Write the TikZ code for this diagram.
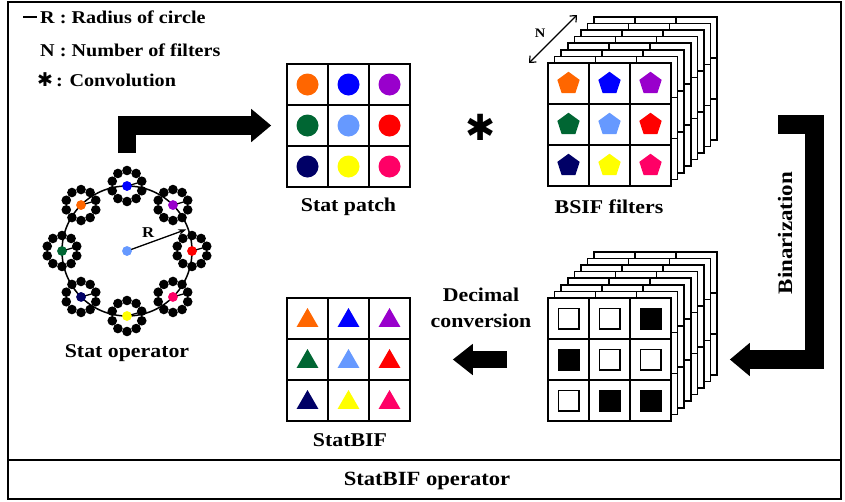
\documentclass[tikz,border=0pt]{standalone}
\usepackage{fontspec}
\setmainfont[FakeStretch=1.12]{Liberation Serif}
\newfontfamily\symfont{DejaVu Sans}
\usetikzlibrary{positioning,arrows.meta,calc,shapes.geometric}
\definecolor{DotOrange}{RGB}{255,102,0}
\definecolor{DotBlue}{RGB}{0,0,255}
\definecolor{DotPurple}{RGB}{153,0,204}
\definecolor{DotGreen}{RGB}{0,102,51}
\definecolor{DotSky}{RGB}{102,153,255}
\definecolor{DotRed}{RGB}{255,0,0}
\definecolor{DotNavy}{RGB}{0,0,102}
\definecolor{DotYellow}{RGB}{255,255,0}
\definecolor{DotPink}{RGB}{255,0,102}
\tikzset{
  frame/.style={line width=1.3pt},
  cell/.style={draw,line width=1.6pt,fill=white,minimum size=41pt,inner sep=0pt},
  layer/.style={draw,line width=1.5pt,fill=white},
  disc/.style={circle,inner sep=0pt,minimum size=22pt},
  pent/.style={regular polygon,regular polygon sides=5,inner sep=0pt,minimum size=23.5pt},
  tri/.style={regular polygon,regular polygon sides=3,inner sep=0pt,minimum size=25pt},
  bitbox/.style={draw,line width=1.5pt,inner sep=0pt,minimum size=20.5pt},
  bit0/.style={fill=white},
  bit1/.style={fill=black},
  statdot/.style={circle,inner sep=0pt,minimum size=9.5pt},
  blockarrow/.style={line width=18.5pt,-{Triangle[length=20pt,width=32pt]}},
  textlbl/.style={font=\bfseries\fontsize{19.5}{26}\selectfont,inner sep=0pt},
  legend/.style={font=\bfseries\fontsize{18}{21}\selectfont,anchor=west,inner sep=0pt},
  narrow/.style={line width=1.2pt,{Straight Barb[length=5pt,width=9pt]}-{Straight Barb[length=5pt,width=9pt]}}
}

\begin{document}
\begin{tikzpicture}[x=1pt,y=-1pt]
  \useasboundingbox (0,0) rectangle (845,501);
  % outer frame and title strip
  \draw[frame] (8,2) rectangle (841,499);
  \draw[frame] (8,460) -- (841,460);
  \node[textlbl,font=\bfseries\fontsize{20.2}{24}\selectfont] (optitle) at (427,481) {StatBIF operator};

  % legend
  \node[legend] (legR) at (40,17) {R : Radius of circle};
  \draw[line width=1.6pt] ([xshift=-17pt]legR.west) -- ([xshift=-3pt]legR.west);
  \node[legend] (legN) at (40,50) {N : Number of filters};
  \node[legend] (legC) at (37,80) {{\symfont\fontsize{19}{21}\selectfont ✱}\,: Convolution};

  % stat operator
  \node[statdot,fill=DotSky] (statop) at (127,251) {};
  \draw[line width=1.5pt] (statop.center) circle[radius=65];
  \foreach \ang/\col [count=\i] in {-90/DotBlue,-45/DotPurple,0/DotRed,45/DotPink,
      90/DotYellow,135/DotNavy,180/DotGreen,225/DotOrange} {
    \node[statdot,fill=\col] (ring\i) at ($(statop.center)+(\ang:65)$) {};
    \foreach \k in {0,36,...,324}
      \fill (ring\i.center) ++(\k+18:15.5) circle[radius=4.8];
    \draw[line width=1.3pt] (ring\i.center) -- ++(-16:15);
    \node[statdot,fill=\col] at (ring\i) {};
  }
  \draw[line width=1.3pt,-{Stealth[length=8pt,width=6pt]}] (statop.center) -- ++(-20:63)
    node[pos=0.36,above=5pt,font=\bfseries\fontsize{15}{18}\selectfont,inner sep=0pt] (rlbl) {R};
  \node[statdot,fill=DotSky] at (statop) {};
  \node[textlbl] (statoplbl) at (127,353) {Stat operator};

  % stat patch
  \foreach \col [count=\i from 0] in {DotOrange,DotBlue,DotPurple,DotGreen,DotSky,DotRed,DotNavy,DotYellow,DotPink} {
    \pgfmathtruncatemacro\r{\i/3}
    \pgfmathtruncatemacro\c{mod(\i,3)}
    \node[cell] (patch-\r-\c) at ({287+20.5+41*\c},{64+20.5+41*\r}) {};
    \node[disc,fill=\col] at (patch-\r-\c) {};
  }
  \node[textlbl] (patchlbl) at (348.5,207) {Stat patch};

  \coordinate (optop) at ($(statop.center)+(0,-98)$);
  \draw[blockarrow,shorten >=15pt] (optop) |- (patch-1-0.west);

  % convolution sign
  \node[inner sep=0pt,font=\symfont\fontsize{36}{36}\selectfont] (conv) at (481,127) {✱};

  % BSIF filter stack
  \foreach \k in {7,6,...,1}
    \foreach \r in {0,1,2}
      \foreach \c in {0,1,2}
        \draw[layer] ({548+41*\c+6.6*\k},{63+41*\r-6.6*\k}) rectangle ++(41,41);
  \foreach \col [count=\i from 0] in {DotOrange,DotBlue,DotPurple,DotGreen,DotSky,DotRed,DotNavy,DotYellow,DotPink} {
    \pgfmathtruncatemacro\r{\i/3}
    \pgfmathtruncatemacro\c{mod(\i,3)}
    \node[cell] (bsif-\r-\c) at ({548+20.5+41*\c},{63+20.5+41*\r}) {};
    \node[pent,fill=\col] at (bsif-\r-\c) {};
  }
  \node[textlbl] (bsiflbl) at (609,207) {BSIF filters};
  \coordinate (nlow) at (529,63);
  \coordinate (nhigh) at (577,15);
  \draw[narrow] (nlow) -- (nhigh);
  \node[font=\bfseries\fontsize{13}{15}\selectfont,inner sep=0pt] (nlbl) at (540,33) {N};

  % binarized stack
  \foreach \k in {7,6,...,1}
    \foreach \r in {0,1,2}
      \foreach \c in {0,1,2}
        \draw[layer] ({548+41*\c+6.6*\k},{298+41*\r-6.6*\k}) rectangle ++(41,41);
  \foreach \b [count=\i from 0] in {0,0,1,1,0,0,0,1,1} {
    \pgfmathtruncatemacro\r{\i/3}
    \pgfmathtruncatemacro\c{mod(\i,3)}
    \node[cell] (bin-\r-\c) at ({548+20.5+41*\c},{298+20.5+41*\r}) {};
    \node[bitbox,bit\b] at (bin-\r-\c) {};
  }

  \coordinate (binstart) at (778,124.5);
  \draw[blockarrow,shorten >=58pt] (binstart) -- ++(36.5,0) |- (bin-1-2.east);
  \node[textlbl,rotate=90,font=\bfseries\fontsize{20.5}{26}\selectfont] (binlbl) at (785,233) {Binarization};

  % statbif output
  \foreach \col [count=\i from 0] in {DotOrange,DotBlue,DotPurple,DotGreen,DotSky,DotRed,DotNavy,DotYellow,DotPink} {
    \pgfmathtruncatemacro\r{\i/3}
    \pgfmathtruncatemacro\c{mod(\i,3)}
    \node[cell] (sbif-\r-\c) at ({287+20.5+41*\c},{298+20.5+41*\r}) {};
    \node[tri,fill=\col,yshift=-2pt] at (sbif-\r-\c) {};
  }
  \node[textlbl] (sbiflbl) at (350,440) {StatBIF};

  \draw[blockarrow,line width=17.5pt,-{Triangle[length=20pt,width=30pt]},shorten <=40pt,shorten >=42pt]
    (bin-1-0.west) -- (sbif-1-2.east);
  \node[textlbl,align=center] (declbl) at (481,308) {Decimal\\conversion};
\end{tikzpicture}
\end{document}
